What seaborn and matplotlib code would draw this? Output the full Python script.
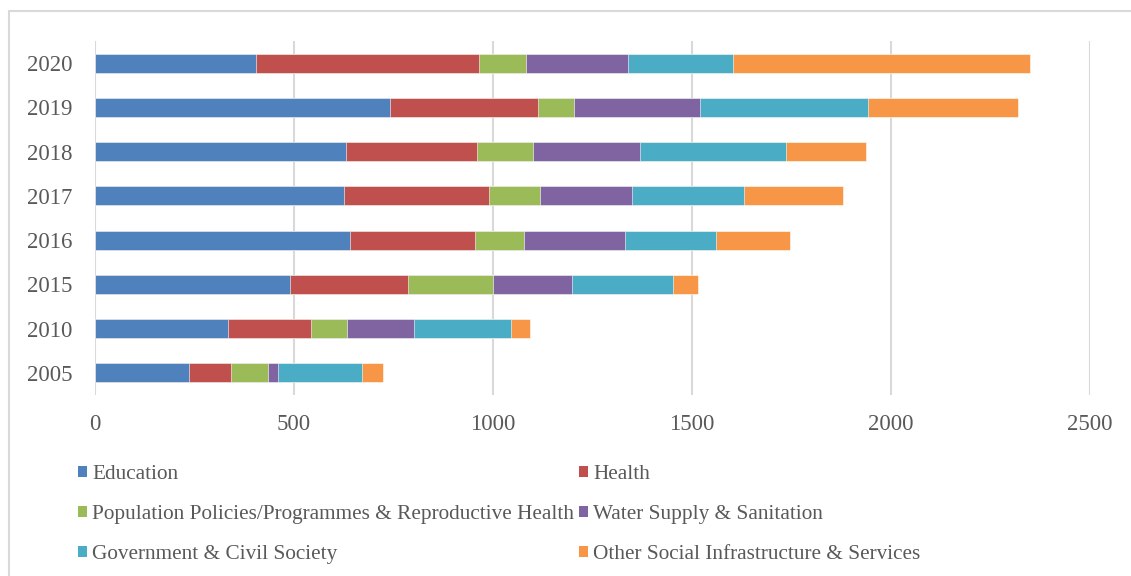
import matplotlib
matplotlib.use("Agg")
import matplotlib.pyplot as plt
from matplotlib.patches import Rectangle, Patch
import numpy as np
import pandas as pd
import seaborn as sns

years = ["2020", "2019", "2018", "2017", "2016", "2015", "2010", "2005"]
sectors = [
    "Education",
    "Health",
    "Population Policies/Programmes & Reproductive Health",
    "Water Supply & Sanitation",
    "Government & Civil Society",
    "Other Social Infrastructure & Services",
]
education = [404, 741, 631, 625, 641, 490, 335, 236]
health = [560, 372, 329, 365, 314, 296, 208, 105]
population = [118, 90, 140, 128, 122, 213, 89, 93]
water = [257, 317, 270, 232, 254, 200, 170, 25]
government = [264, 423, 367, 281, 230, 254, 244, 212]
other = [745, 375, 199, 249, 184, 62, 46, 53]
colors = ["#4F81BD", "#C0504D", "#9BBB59", "#8064A2", "#4BACC6", "#F79646"]

series = [education, health, population, water, government, other]
df = pd.DataFrame({"year": years})
for name, vals in zip(sectors, series):
    df[name] = vals
cum = df[sectors].cumsum(axis=1)
cum["year"] = df["year"]

sns.set_theme(style="white")
plt.rcParams["font.family"] = ["Liberation Serif", "DejaVu Serif"]
text_color = "#595959"
grid_color = "#D9D9D9"

fig = plt.figure(figsize=(11.31, 5.76), dpi=100)
ax = fig.add_axes([95 / 1131, 1 - 395 / 576, 995 / 1131, 354 / 576])

# Stacked bars: draw cumulative totals from the outermost segment inward
for name, color in reversed(list(zip(sectors, colors))):
    sns.barplot(data=cum, x=name, y="year", order=years,
                color=color, orient="h", width=0.43, ax=ax,
                edgecolor="white", linewidth=0.4, saturation=1)

ax.set_xlim(0, 2500)
ax.set_xticks(np.arange(0, 2501, 500))
ax.xaxis.grid(True, color=grid_color, linewidth=1.5)
ax.yaxis.grid(False)
ax.set_axisbelow(True)
for s in ax.spines.values():
    s.set_visible(False)
ax.set_xlabel("")
ax.set_ylabel("")
ax.tick_params(axis="both", length=0, labelsize=16.5, colors=text_color)
ax.tick_params(axis="x", pad=14)
ax.tick_params(axis="y", pad=16)

handles = [Patch(facecolor=c, edgecolor="none") for c in colors]
order = [0, 2, 4, 1, 3, 5]
leg = fig.legend([handles[i] for i in order], [sectors[i] for i in order],
                 loc="upper left", bbox_to_anchor=(78 / 1131, 1 - 465 / 576),
                 ncol=2, frameon=False, fontsize=15.35, labelcolor=text_color,
                 handlelength=0.42, handleheight=0.42, handletextpad=0.25,
                 columnspacing=0.22, labelspacing=0.98, borderpad=0, borderaxespad=0)

# Outer chart frame
fig.patches.append(Rectangle((9 / 1131, -0.1), 1.2, 1 - 11 / 576 + 0.1,
                             transform=fig.transFigure, fill=False,
                             edgecolor=grid_color, linewidth=1.5))

fig.savefig("out.png", dpi=100)
